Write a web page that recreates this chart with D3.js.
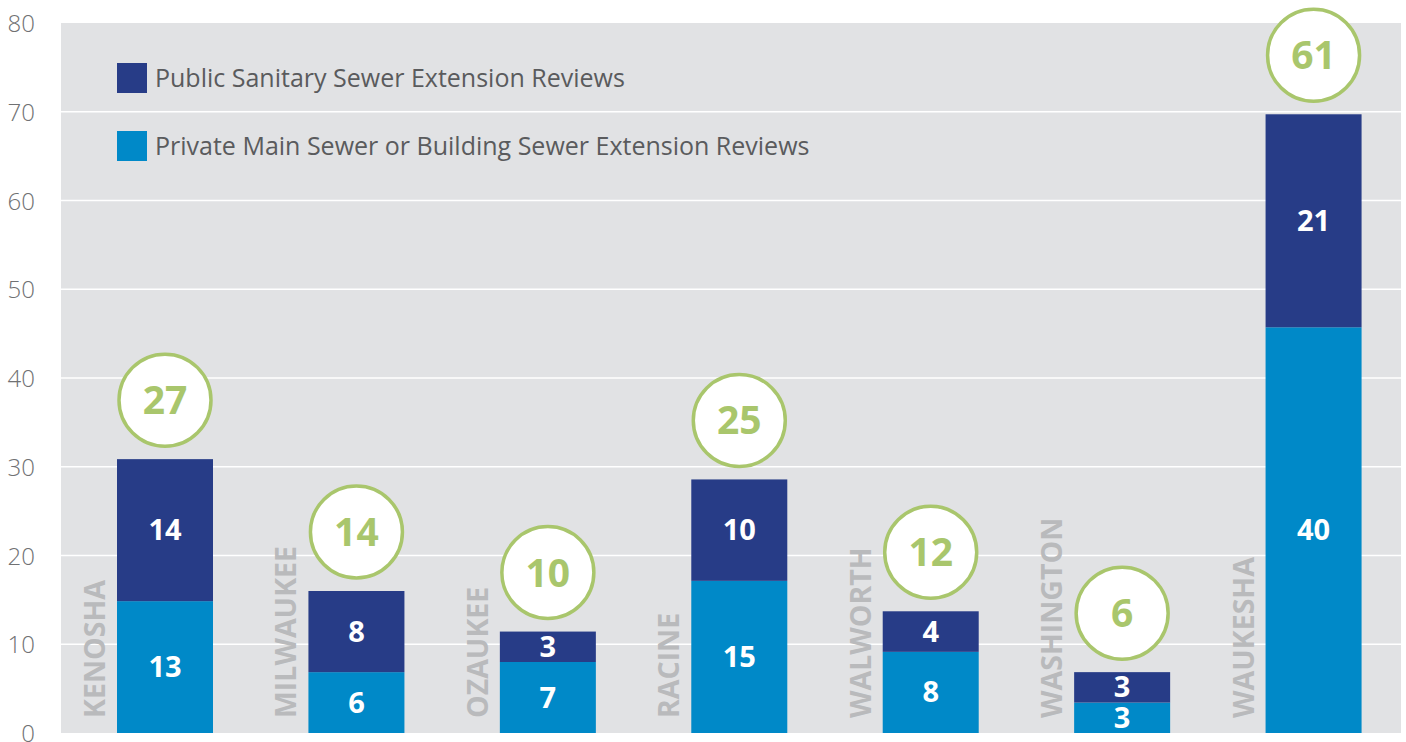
<!DOCTYPE html>
<html>
  <head>
    <title>Sewer Extension Reviews</title>
    <script src="https://d3js.org/d3.v7.min.js"></script>
    <style>
      body { margin: 0; background-color: white; }
      text { font-family: 'Open Sans', sans-serif; }
    </style>
  </head>
  <body>
    <svg id="canvas" width="1406" height="742"></svg>
    <script>
      const counties = ['KENOSHA', 'MILWAUKEE', 'OZAUKEE', 'RACINE', 'WALWORTH', 'WASHINGTON', 'WAUKESHA']
      const privateReviews = [13, 6, 7, 15, 8, 3, 40]
      const publicReviews = [14, 8, 3, 10, 4, 3, 21]
      const totals = [27, 14, 10, 25, 12, 6, 61]
      const yTicks = [0, 10, 20, 30, 40, 50, 60, 70, 80]
      const legendLabels = ['Public Sanitary Sewer Extension Reviews', 'Private Main Sewer or Building Sewer Extension Reviews']

      const darkBlue = '#273c87'
      const lightBlue = '#0089c8'
      const green = '#a9c66c'

      let margin = { top: 23, right: 5, bottom: 9, left: 61 }
      let svg = d3.select('#canvas')
      let width = 1406 - margin.left - margin.right
      let height = 742 - margin.top - margin.bottom
      let g = svg.append('g').attr('transform', `translate(${margin.left}, ${margin.top})`)

      let x = d3.scaleBand().domain(counties).range([0, width])
      // the axis reads 0-80 but the bars are drawn on a 0-70 scale, as in the original
      let yAxis = d3.scaleLinear().domain([0, 80]).range([height, 0])
      let yBar = d3.scaleLinear().domain([0, 70]).range([height, 0])

      const barW = 96
      const barX = d => x(d) + 56

      // background
      g.append('rect')
        .attr('width', width)
        .attr('height', height)
        .attr('fill', '#e1e2e4')

      // gridlines
      g.selectAll('.grid').data(yTicks.slice(1, -1))
        .enter()
        .append('line')
          .attr('x1', 0)
          .attr('x2', width)
          .attr('y1', d => yAxis(d))
          .attr('y2', d => yAxis(d))
          .attr('stroke', 'white')
          .attr('stroke-width', 1.5)

      // y tick labels
      svg.selectAll('.tick').data(yTicks)
        .enter()
        .append('text')
          .attr('x', 35)
          .attr('y', d => margin.top + yAxis(d) + 9)
          .attr('text-anchor', 'end')
          .attr('font-size', 24)
          .attr('font-weight', 300)
          .attr('fill', '#707173')
          .text(d => d)

      // county labels
      g.selectAll('.county').data(counties)
        .enter()
        .append('text')
          .attr('transform', d => `translate(${barX(d) - 12}, ${height - 15}) rotate(-90)`)
          .attr('font-size', 28.5)
          .attr('font-weight', 700)
          .attr('fill', '#b9babc')
          .text(d => d)

      // private (bottom) segments
      g.selectAll('.priv').data(counties)
        .enter()
        .append('rect')
          .attr('x', barX)
          .attr('width', barW)
          .attr('y', (d, i) => yBar(privateReviews[i]))
          .attr('height', (d, i) => height - yBar(privateReviews[i]))
          .attr('fill', lightBlue)

      // public (top) segments
      g.selectAll('.pub').data(counties)
        .enter()
        .append('rect')
          .attr('x', barX)
          .attr('width', barW)
          .attr('y', (d, i) => yBar(privateReviews[i] + publicReviews[i]))
          .attr('height', (d, i) => yBar(privateReviews[i]) - yBar(privateReviews[i] + publicReviews[i]))
          .attr('fill', darkBlue)

      // segment values
      const segLabel = (vals, base) => {
        g.selectAll(null).data(counties)
          .enter()
          .append('text')
            .attr('x', d => barX(d) + barW / 2)
            .attr('y', (d, i) => (yBar(base[i]) + yBar(base[i] + vals[i])) / 2 + 10)
            .attr('text-anchor', 'middle')
            .attr('font-size', 29)
            .attr('font-weight', 700)
            .attr('fill', 'white')
            .text((d, i) => vals[i])
      }
      segLabel(privateReviews, counties.map(() => 0))
      segLabel(publicReviews, privateReviews)

      // total circles
      const cy = (d, i) => yBar(privateReviews[i] + publicReviews[i]) - 59
      g.selectAll('.circ').data(counties)
        .enter()
        .append('circle')
          .attr('cx', d => barX(d) + barW / 2)
          .attr('cy', cy)
          .attr('r', 46)
          .attr('fill', 'white')
          .attr('stroke', green)
          .attr('stroke-width', 3.5)

      g.selectAll('.tot').data(counties)
        .enter()
        .append('text')
          .attr('x', d => barX(d) + barW / 2)
          .attr('y', (d, i) => cy(d, i) + 14)
          .attr('text-anchor', 'middle')
          .attr('font-size', 39)
          .attr('font-weight', 700)
          .attr('fill', green)
          .text((d, i) => totals[i])

      // legend
      let legend = svg.append('g')
      legendLabels.forEach((lbl, i) => {
        legend.append('rect')
          .attr('x', 117)
          .attr('y', 63 + i * 68)
          .attr('width', 30)
          .attr('height', 30)
          .attr('fill', i === 0 ? darkBlue : lightBlue)
        legend.append('text')
          .attr('x', 155)
          .attr('y', 87 + i * 68)
          .attr('font-size', 25)
          .attr('fill', '#5a5b5d')
          .text(lbl)
      })
    </script>
  </body>
</html>
